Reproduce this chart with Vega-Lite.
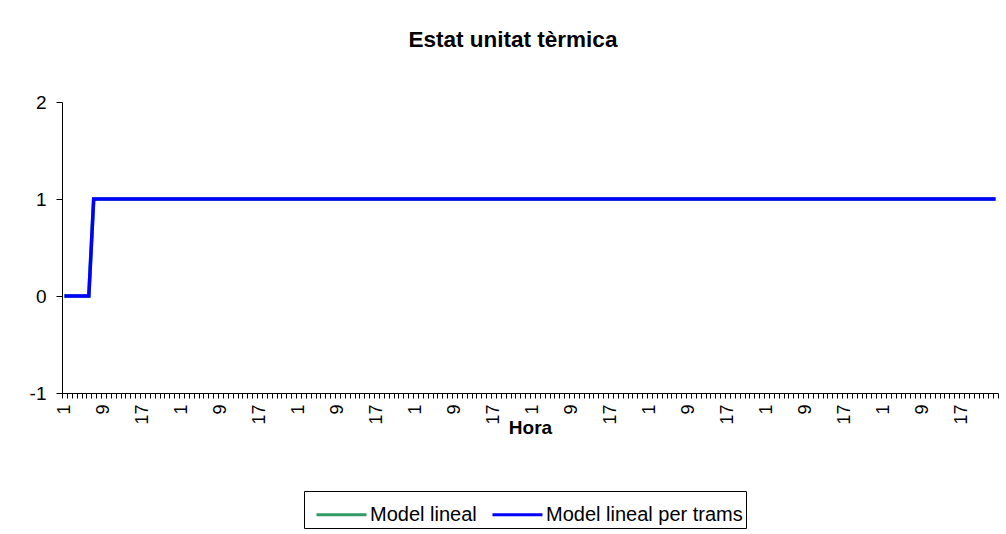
{
  "$schema": "https://vega.github.io/schema/vega-lite/v6.json",
  "autosize": {"type": "none"},
  "width": 936,
  "height": 291,
  "padding": {"left": 62, "top": 102, "right": 8, "bottom": 141},
  "background": "white",
  "config": {
    "view": {"stroke": null},
    "font": "Liberation Sans",
    "axis": {"domainColor": "black", "tickColor": "black", "labelColor": "black", "titleColor": "black", "grid": false, "labelFont": "Liberation Sans", "titleFont": "Liberation Sans"}
  },
  "title": {
    "text": "Estat unitat tèrmica",
    "font": "Liberation Sans",
    "fontSize": 22.5,
    "fontWeight": "bold",
    "color": "black",
    "anchor": "middle",
    "dx": -17,
    "offset": 42
  },
  "data": {"values": [
    {"i":1,"Model lineal":0,"Model lineal per trams":0},
    {"i":2,"Model lineal":0,"Model lineal per trams":0},
    {"i":3,"Model lineal":0,"Model lineal per trams":0},
    {"i":4,"Model lineal":0,"Model lineal per trams":0},
    {"i":5,"Model lineal":0,"Model lineal per trams":0},
    {"i":6,"Model lineal":0,"Model lineal per trams":0},
    {"i":7,"Model lineal":1,"Model lineal per trams":1},
    {"i":8,"Model lineal":1,"Model lineal per trams":1},
    {"i":9,"Model lineal":1,"Model lineal per trams":1},
    {"i":10,"Model lineal":1,"Model lineal per trams":1},
    {"i":11,"Model lineal":1,"Model lineal per trams":1},
    {"i":12,"Model lineal":1,"Model lineal per trams":1},
    {"i":13,"Model lineal":1,"Model lineal per trams":1},
    {"i":14,"Model lineal":1,"Model lineal per trams":1},
    {"i":15,"Model lineal":1,"Model lineal per trams":1},
    {"i":16,"Model lineal":1,"Model lineal per trams":1},
    {"i":17,"Model lineal":1,"Model lineal per trams":1},
    {"i":18,"Model lineal":1,"Model lineal per trams":1},
    {"i":19,"Model lineal":1,"Model lineal per trams":1},
    {"i":20,"Model lineal":1,"Model lineal per trams":1},
    {"i":21,"Model lineal":1,"Model lineal per trams":1},
    {"i":22,"Model lineal":1,"Model lineal per trams":1},
    {"i":23,"Model lineal":1,"Model lineal per trams":1},
    {"i":24,"Model lineal":1,"Model lineal per trams":1},
    {"i":25,"Model lineal":1,"Model lineal per trams":1},
    {"i":26,"Model lineal":1,"Model lineal per trams":1},
    {"i":27,"Model lineal":1,"Model lineal per trams":1},
    {"i":28,"Model lineal":1,"Model lineal per trams":1},
    {"i":29,"Model lineal":1,"Model lineal per trams":1},
    {"i":30,"Model lineal":1,"Model lineal per trams":1},
    {"i":31,"Model lineal":1,"Model lineal per trams":1},
    {"i":32,"Model lineal":1,"Model lineal per trams":1},
    {"i":33,"Model lineal":1,"Model lineal per trams":1},
    {"i":34,"Model lineal":1,"Model lineal per trams":1},
    {"i":35,"Model lineal":1,"Model lineal per trams":1},
    {"i":36,"Model lineal":1,"Model lineal per trams":1},
    {"i":37,"Model lineal":1,"Model lineal per trams":1},
    {"i":38,"Model lineal":1,"Model lineal per trams":1},
    {"i":39,"Model lineal":1,"Model lineal per trams":1},
    {"i":40,"Model lineal":1,"Model lineal per trams":1},
    {"i":41,"Model lineal":1,"Model lineal per trams":1},
    {"i":42,"Model lineal":1,"Model lineal per trams":1},
    {"i":43,"Model lineal":1,"Model lineal per trams":1},
    {"i":44,"Model lineal":1,"Model lineal per trams":1},
    {"i":45,"Model lineal":1,"Model lineal per trams":1},
    {"i":46,"Model lineal":1,"Model lineal per trams":1},
    {"i":47,"Model lineal":1,"Model lineal per trams":1},
    {"i":48,"Model lineal":1,"Model lineal per trams":1},
    {"i":49,"Model lineal":1,"Model lineal per trams":1},
    {"i":50,"Model lineal":1,"Model lineal per trams":1},
    {"i":51,"Model lineal":1,"Model lineal per trams":1},
    {"i":52,"Model lineal":1,"Model lineal per trams":1},
    {"i":53,"Model lineal":1,"Model lineal per trams":1},
    {"i":54,"Model lineal":1,"Model lineal per trams":1},
    {"i":55,"Model lineal":1,"Model lineal per trams":1},
    {"i":56,"Model lineal":1,"Model lineal per trams":1},
    {"i":57,"Model lineal":1,"Model lineal per trams":1},
    {"i":58,"Model lineal":1,"Model lineal per trams":1},
    {"i":59,"Model lineal":1,"Model lineal per trams":1},
    {"i":60,"Model lineal":1,"Model lineal per trams":1},
    {"i":61,"Model lineal":1,"Model lineal per trams":1},
    {"i":62,"Model lineal":1,"Model lineal per trams":1},
    {"i":63,"Model lineal":1,"Model lineal per trams":1},
    {"i":64,"Model lineal":1,"Model lineal per trams":1},
    {"i":65,"Model lineal":1,"Model lineal per trams":1},
    {"i":66,"Model lineal":1,"Model lineal per trams":1},
    {"i":67,"Model lineal":1,"Model lineal per trams":1},
    {"i":68,"Model lineal":1,"Model lineal per trams":1},
    {"i":69,"Model lineal":1,"Model lineal per trams":1},
    {"i":70,"Model lineal":1,"Model lineal per trams":1},
    {"i":71,"Model lineal":1,"Model lineal per trams":1},
    {"i":72,"Model lineal":1,"Model lineal per trams":1},
    {"i":73,"Model lineal":1,"Model lineal per trams":1},
    {"i":74,"Model lineal":1,"Model lineal per trams":1},
    {"i":75,"Model lineal":1,"Model lineal per trams":1},
    {"i":76,"Model lineal":1,"Model lineal per trams":1},
    {"i":77,"Model lineal":1,"Model lineal per trams":1},
    {"i":78,"Model lineal":1,"Model lineal per trams":1},
    {"i":79,"Model lineal":1,"Model lineal per trams":1},
    {"i":80,"Model lineal":1,"Model lineal per trams":1},
    {"i":81,"Model lineal":1,"Model lineal per trams":1},
    {"i":82,"Model lineal":1,"Model lineal per trams":1},
    {"i":83,"Model lineal":1,"Model lineal per trams":1},
    {"i":84,"Model lineal":1,"Model lineal per trams":1},
    {"i":85,"Model lineal":1,"Model lineal per trams":1},
    {"i":86,"Model lineal":1,"Model lineal per trams":1},
    {"i":87,"Model lineal":1,"Model lineal per trams":1},
    {"i":88,"Model lineal":1,"Model lineal per trams":1},
    {"i":89,"Model lineal":1,"Model lineal per trams":1},
    {"i":90,"Model lineal":1,"Model lineal per trams":1},
    {"i":91,"Model lineal":1,"Model lineal per trams":1},
    {"i":92,"Model lineal":1,"Model lineal per trams":1},
    {"i":93,"Model lineal":1,"Model lineal per trams":1},
    {"i":94,"Model lineal":1,"Model lineal per trams":1},
    {"i":95,"Model lineal":1,"Model lineal per trams":1},
    {"i":96,"Model lineal":1,"Model lineal per trams":1},
    {"i":97,"Model lineal":1,"Model lineal per trams":1},
    {"i":98,"Model lineal":1,"Model lineal per trams":1},
    {"i":99,"Model lineal":1,"Model lineal per trams":1},
    {"i":100,"Model lineal":1,"Model lineal per trams":1},
    {"i":101,"Model lineal":1,"Model lineal per trams":1},
    {"i":102,"Model lineal":1,"Model lineal per trams":1},
    {"i":103,"Model lineal":1,"Model lineal per trams":1},
    {"i":104,"Model lineal":1,"Model lineal per trams":1},
    {"i":105,"Model lineal":1,"Model lineal per trams":1},
    {"i":106,"Model lineal":1,"Model lineal per trams":1},
    {"i":107,"Model lineal":1,"Model lineal per trams":1},
    {"i":108,"Model lineal":1,"Model lineal per trams":1},
    {"i":109,"Model lineal":1,"Model lineal per trams":1},
    {"i":110,"Model lineal":1,"Model lineal per trams":1},
    {"i":111,"Model lineal":1,"Model lineal per trams":1},
    {"i":112,"Model lineal":1,"Model lineal per trams":1},
    {"i":113,"Model lineal":1,"Model lineal per trams":1},
    {"i":114,"Model lineal":1,"Model lineal per trams":1},
    {"i":115,"Model lineal":1,"Model lineal per trams":1},
    {"i":116,"Model lineal":1,"Model lineal per trams":1},
    {"i":117,"Model lineal":1,"Model lineal per trams":1},
    {"i":118,"Model lineal":1,"Model lineal per trams":1},
    {"i":119,"Model lineal":1,"Model lineal per trams":1},
    {"i":120,"Model lineal":1,"Model lineal per trams":1},
    {"i":121,"Model lineal":1,"Model lineal per trams":1},
    {"i":122,"Model lineal":1,"Model lineal per trams":1},
    {"i":123,"Model lineal":1,"Model lineal per trams":1},
    {"i":124,"Model lineal":1,"Model lineal per trams":1},
    {"i":125,"Model lineal":1,"Model lineal per trams":1},
    {"i":126,"Model lineal":1,"Model lineal per trams":1},
    {"i":127,"Model lineal":1,"Model lineal per trams":1},
    {"i":128,"Model lineal":1,"Model lineal per trams":1},
    {"i":129,"Model lineal":1,"Model lineal per trams":1},
    {"i":130,"Model lineal":1,"Model lineal per trams":1},
    {"i":131,"Model lineal":1,"Model lineal per trams":1},
    {"i":132,"Model lineal":1,"Model lineal per trams":1},
    {"i":133,"Model lineal":1,"Model lineal per trams":1},
    {"i":134,"Model lineal":1,"Model lineal per trams":1},
    {"i":135,"Model lineal":1,"Model lineal per trams":1},
    {"i":136,"Model lineal":1,"Model lineal per trams":1},
    {"i":137,"Model lineal":1,"Model lineal per trams":1},
    {"i":138,"Model lineal":1,"Model lineal per trams":1},
    {"i":139,"Model lineal":1,"Model lineal per trams":1},
    {"i":140,"Model lineal":1,"Model lineal per trams":1},
    {"i":141,"Model lineal":1,"Model lineal per trams":1},
    {"i":142,"Model lineal":1,"Model lineal per trams":1},
    {"i":143,"Model lineal":1,"Model lineal per trams":1},
    {"i":144,"Model lineal":1,"Model lineal per trams":1},
    {"i":145,"Model lineal":1,"Model lineal per trams":1},
    {"i":146,"Model lineal":1,"Model lineal per trams":1},
    {"i":147,"Model lineal":1,"Model lineal per trams":1},
    {"i":148,"Model lineal":1,"Model lineal per trams":1},
    {"i":149,"Model lineal":1,"Model lineal per trams":1},
    {"i":150,"Model lineal":1,"Model lineal per trams":1},
    {"i":151,"Model lineal":1,"Model lineal per trams":1},
    {"i":152,"Model lineal":1,"Model lineal per trams":1},
    {"i":153,"Model lineal":1,"Model lineal per trams":1},
    {"i":154,"Model lineal":1,"Model lineal per trams":1},
    {"i":155,"Model lineal":1,"Model lineal per trams":1},
    {"i":156,"Model lineal":1,"Model lineal per trams":1},
    {"i":157,"Model lineal":1,"Model lineal per trams":1},
    {"i":158,"Model lineal":1,"Model lineal per trams":1},
    {"i":159,"Model lineal":1,"Model lineal per trams":1},
    {"i":160,"Model lineal":1,"Model lineal per trams":1},
    {"i":161,"Model lineal":1,"Model lineal per trams":1},
    {"i":162,"Model lineal":1,"Model lineal per trams":1},
    {"i":163,"Model lineal":1,"Model lineal per trams":1},
    {"i":164,"Model lineal":1,"Model lineal per trams":1},
    {"i":165,"Model lineal":1,"Model lineal per trams":1},
    {"i":166,"Model lineal":1,"Model lineal per trams":1},
    {"i":167,"Model lineal":1,"Model lineal per trams":1},
    {"i":168,"Model lineal":1,"Model lineal per trams":1},
    {"i":169,"Model lineal":1,"Model lineal per trams":1},
    {"i":170,"Model lineal":1,"Model lineal per trams":1},
    {"i":171,"Model lineal":1,"Model lineal per trams":1},
    {"i":172,"Model lineal":1,"Model lineal per trams":1},
    {"i":173,"Model lineal":1,"Model lineal per trams":1},
    {"i":174,"Model lineal":1,"Model lineal per trams":1},
    {"i":175,"Model lineal":1,"Model lineal per trams":1},
    {"i":176,"Model lineal":1,"Model lineal per trams":1},
    {"i":177,"Model lineal":1,"Model lineal per trams":1},
    {"i":178,"Model lineal":1,"Model lineal per trams":1},
    {"i":179,"Model lineal":1,"Model lineal per trams":1},
    {"i":180,"Model lineal":1,"Model lineal per trams":1},
    {"i":181,"Model lineal":1,"Model lineal per trams":1},
    {"i":182,"Model lineal":1,"Model lineal per trams":1},
    {"i":183,"Model lineal":1,"Model lineal per trams":1},
    {"i":184,"Model lineal":1,"Model lineal per trams":1},
    {"i":185,"Model lineal":1,"Model lineal per trams":1},
    {"i":186,"Model lineal":1,"Model lineal per trams":1},
    {"i":187,"Model lineal":1,"Model lineal per trams":1},
    {"i":188,"Model lineal":1,"Model lineal per trams":1},
    {"i":189,"Model lineal":1,"Model lineal per trams":1},
    {"i":190,"Model lineal":1,"Model lineal per trams":1},
    {"i":191,"Model lineal":1,"Model lineal per trams":1},
    {"i":192,"Model lineal":1,"Model lineal per trams":1}
  ]},
  "transform": [
    {"fold": ["Model lineal", "Model lineal per trams"], "as": ["serie", "estat"]}
  ],
  "mark": {"type": "line", "strokeWidth": 3.5, "interpolate": "linear"},
  "encoding": {
    "x": {
      "field": "i",
      "type": "ordinal",
      "bandPosition": 0.5,
      "scale": {"type": "band", "paddingInner": 0, "paddingOuter": 0},
      "axis": {
        "title": "Hora",
        "titleFontSize": 19,
        "titleFontWeight": "bold",
        "titleBaseline": "alphabetic",
        "titleY": 40,
        "labelAngle": 270,
        "labelAlign": "right",
        "labelBaseline": "middle",
        "labelFontSize": 18,
        "labelPadding": 6,
        "labelOverlap": false,
        "labelExpr": "(datum.value - 1) % 8 == 0 ? toString((datum.value - 1) % 24 + 1) : ''",
        "tickBand": "extent",
        "tickSize": 5,
        "domainWidth": 1
      }
    },
    "y": {
      "field": "estat",
      "type": "quantitative",
      "scale": {"domain": [-1, 2], "nice": false, "zero": false},
      "axis": {
        "title": null,
        "values": [-1, 0, 1, 2],
        "labelExpr": "toString(datum.value)",
        "labelFontSize": 19,
        "labelPadding": 10,
        "tickSize": 6,
        "domainWidth": 1
      }
    },
    "color": {
      "field": "serie",
      "type": "nominal",
      "scale": {"domain": ["Model lineal", "Model lineal per trams"], "range": ["#339966", "#0000FF"]},
      "legend": {
        "title": null,
        "orient": "none",
        "direction": "horizontal",
        "legendX": 242,
        "legendY": 389,
        "symbolType": "M-0.58,0H2.05",
        "symbolSize": 1444,
        "symbolStrokeWidth": 3,
        "labelFontSize": 20,
        "labelFont": "Liberation Sans",
        "labelColor": "black",
        "labelLimit": 400,
        "labelOffset": 22,
        "columnPadding": 6,
        "padding": 3,
        "strokeColor": "black",
        "fillColor": "white"
      }
    }
  }
}
